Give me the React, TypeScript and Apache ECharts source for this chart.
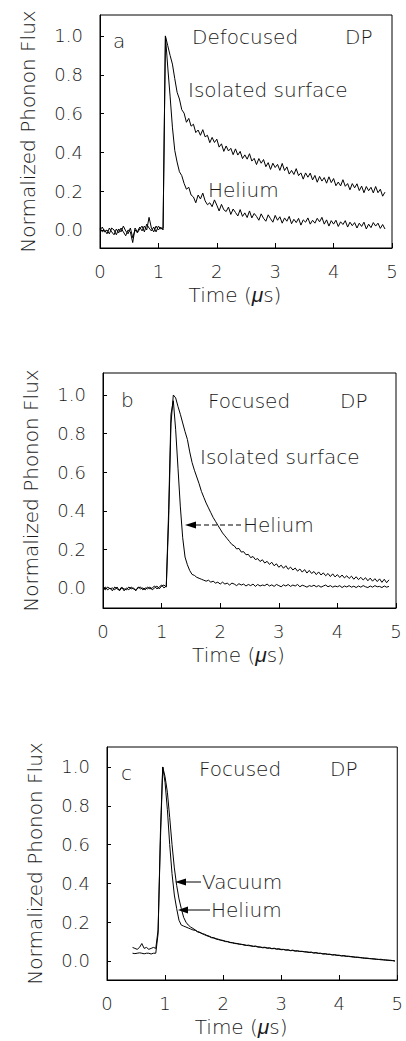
import React, { useEffect, useRef } from "react";
import * as echarts from "echarts";

const T_STEP = 0.04;
const A_T0 = 0;
const B_T0 = 0;
const C_T0 = 0.44;

const X_TICKS_MAX = 5;
const Y_TICK_VALUES = [0, 0.2, 0.4, 0.6, 0.8, 1.0];

// Panel a: Defocused DP
const aIsolated = [
  0.01, -0.01, 0.0, -0.02, 0.01, -0.01, -0.025, 0.005, -0.015, 0.01,
  -0.01, -0.03, 0.0, -0.01, -0.065, 0.01, -0.01, 0.015, -0.005, 0.02,
  0.0, 0.065, 0.01, -0.01, 0.02, 0.0, 0.015, 0.0, 1.0, 0.95,
  0.9, 0.855, 0.78, 0.71, 0.675, 0.62, 0.602, 0.555, 0.575, 0.535,
  0.545, 0.502, 0.515, 0.488, 0.517, 0.48, 0.488, 0.45, 0.477, 0.451,
  0.468, 0.427, 0.444, 0.405, 0.433, 0.407, 0.421, 0.388, 0.418, 0.386,
  0.405, 0.368, 0.387, 0.365, 0.393, 0.355, 0.369, 0.337, 0.368, 0.344,
  0.363, 0.326, 0.347, 0.312, 0.344, 0.322, 0.338, 0.307, 0.343, 0.306,
  0.325, 0.288, 0.307, 0.286, 0.316, 0.28, 0.294, 0.262, 0.294, 0.272,
  0.293, 0.258, 0.281, 0.246, 0.276, 0.252, 0.27, 0.241, 0.274, 0.244,
  0.265, 0.228, 0.247, 0.227, 0.259, 0.225, 0.239, 0.207, 0.239, 0.217,
  0.238, 0.203, 0.226, 0.192, 0.224, 0.202, 0.22, 0.191, 0.224, 0.192,
  0.21, 0.174, 0.195,
];
const aHelium = [
  0.0, 0.015, -0.01, 0.0, -0.02, 0.01, 0.0, -0.025, 0.005, -0.01,
  0.02, -0.005, -0.02, 0.01, -0.04, 0.0, -0.015, 0.005, 0.02, -0.01,
  0.03, 0.01, -0.005, 0.015, -0.01, 0.02, 0.005, 0.01, 1.0, 0.84,
  0.69, 0.53, 0.41, 0.35, 0.3, 0.28, 0.24, 0.21, 0.22, 0.18,
  0.17, 0.14, 0.18, 0.16, 0.19, 0.15, 0.13, 0.14, 0.12, 0.155,
  0.128, 0.098, 0.132, 0.104, 0.095, 0.118, 0.08, 0.108, 0.09, 0.072,
  0.105, 0.07, 0.088, 0.064, 0.098, 0.062, 0.085, 0.07, 0.05, 0.083,
  0.06, 0.045, 0.078, 0.058, 0.04, 0.075, 0.05, 0.068, 0.035, 0.062,
  0.045, 0.07, 0.032, 0.055, 0.038, 0.06, 0.025, 0.052, 0.04, 0.062,
  0.03, 0.05, 0.035, 0.06, 0.042, 0.065, 0.03, 0.052, 0.02, 0.048,
  0.03, 0.05, 0.018, 0.042, 0.028, 0.048, 0.015, 0.04, 0.022, 0.038,
  0.01, 0.035, 0.018, 0.04, 0.005, 0.03, 0.012, 0.038, 0.02, 0.035,
  0.008, 0.028, 0.005,
];

// Panel b: Focused DP
const bIsolated = [
  -0.005, 0.005, -0.01, 0.0, -0.015, 0.005, -0.005, -0.01, 0.005, -0.015,
  0.0, -0.01, 0.005, -0.005, -0.01, 0.0, 0.005, -0.01, 0.0, -0.005,
  0.005, -0.01, 0.0, 0.01, -0.005, 0.01, 0.015, 0.005, 0.35, 0.85,
  1.0, 0.985, 0.94, 0.9, 0.855, 0.81, 0.77, 0.705, 0.65, 0.61,
  0.575, 0.54, 0.5, 0.47, 0.44, 0.415, 0.39, 0.365, 0.345, 0.325,
  0.305, 0.285, 0.27, 0.255, 0.24, 0.225, 0.218, 0.202, 0.205, 0.186,
  0.188, 0.172, 0.174, 0.157, 0.163, 0.147, 0.152, 0.137, 0.146, 0.129,
  0.138, 0.122, 0.133, 0.115, 0.125, 0.107, 0.118, 0.102, 0.115, 0.097,
  0.108, 0.093, 0.103, 0.087, 0.098, 0.082, 0.095, 0.077, 0.091, 0.075,
  0.085, 0.069, 0.083, 0.067, 0.078, 0.063, 0.075, 0.059, 0.073, 0.057,
  0.069, 0.054, 0.067, 0.052, 0.063, 0.049, 0.061, 0.045, 0.058, 0.043,
  0.055, 0.041, 0.053, 0.037, 0.051, 0.035, 0.048, 0.033, 0.047, 0.029,
  0.045, 0.027, 0.042,
];
const bHelium = [
  0.0, -0.01, 0.005, -0.005, 0.0, -0.01, 0.005, -0.015, 0.0, -0.005,
  -0.01, 0.005, -0.005, 0.0, -0.015, 0.005, -0.005, 0.0, -0.01, 0.005,
  -0.005, 0.0, 0.01, -0.005, 0.005, 0.015, 0.0, 0.01, 0.4, 0.9,
  0.97, 0.82, 0.62, 0.42, 0.26, 0.16, 0.12, 0.09, 0.07, 0.065,
  0.055, 0.05, 0.045, 0.04, 0.035, 0.04, 0.03, 0.035, 0.025, 0.03,
  0.02, 0.03, 0.02, 0.025, 0.015, 0.025, 0.02, 0.012, 0.022, 0.015,
  0.02, 0.01, 0.018, 0.012, 0.02, 0.008, 0.018, 0.01, 0.015, 0.012,
  0.02, 0.01, 0.016, 0.008, 0.018, 0.012, 0.006, 0.016, 0.01, 0.018,
  0.008, 0.015, 0.01, 0.018, 0.006, 0.014, 0.01, 0.004, 0.012, 0.008,
  0.014, 0.006, 0.012, 0.004, 0.01, 0.015, 0.006, 0.012, 0.004, 0.01,
  0.006, 0.012, 0.002, 0.01, 0.005, 0.012, 0.004, 0.009, 0.002, 0.01,
  0.004, 0.012, 0.006, 0.002, 0.01, 0.004, 0.012, 0.006, 0.008, 0.002,
  0.01, 0.004, 0.008,
];

// Panel c: Focused DP, vacuum vs helium
const cVacuum = [
  0.07, 0.065, 0.06, 0.07, 0.09, 0.065, 0.07, 0.06, 0.065, 0.07, 0.065,
  0.16, 0.62, 1.0,
  0.95, 0.87, 0.74, 0.6, 0.48, 0.39, 0.32, 0.27, 0.225, 0.2,
  0.185, 0.175, 0.168, 0.16, 0.152, 0.148, 0.14, 0.138, 0.132, 0.128,
  0.122, 0.12, 0.115, 0.112, 0.108, 0.106, 0.102, 0.1, 0.096, 0.095,
  0.092, 0.09, 0.088, 0.085, 0.084, 0.08, 0.082, 0.078, 0.076, 0.077,
  0.073, 0.072, 0.07, 0.071, 0.067, 0.068, 0.064, 0.066, 0.062, 0.063,
  0.06, 0.06, 0.057, 0.058, 0.054, 0.056, 0.052, 0.053, 0.05, 0.05,
  0.048, 0.047, 0.045, 0.046, 0.042, 0.043, 0.04, 0.04, 0.037, 0.038,
  0.035, 0.035, 0.032, 0.033, 0.03, 0.03, 0.027, 0.028, 0.025, 0.025,
  0.023, 0.022, 0.02, 0.02, 0.018, 0.017, 0.015, 0.015, 0.013, 0.012,
  0.011, 0.01, 0.008, 0.009, 0.006, 0.006, 0.004, 0.004, 0.002, 0.0,
];
const cHelium = [
  0.04, 0.038, 0.04, 0.042, 0.04, 0.037, 0.04, 0.04, 0.036, 0.04, 0.04,
  0.14, 0.66, 1.0,
  0.92, 0.78, 0.6, 0.45, 0.34, 0.27, 0.21, 0.185, 0.18, 0.175,
  0.17, 0.165, 0.16, 0.158, 0.15, 0.146, 0.142, 0.135, 0.13, 0.126,
  0.12, 0.118, 0.113, 0.11, 0.107, 0.104, 0.1, 0.099, 0.095, 0.093,
  0.09, 0.089, 0.086, 0.086, 0.082, 0.081, 0.079, 0.078, 0.075, 0.075,
  0.072, 0.071, 0.068, 0.069, 0.066, 0.066, 0.063, 0.064, 0.061, 0.061,
  0.058, 0.059, 0.056, 0.056, 0.053, 0.054, 0.051, 0.051, 0.049, 0.049,
  0.047, 0.046, 0.044, 0.044, 0.041, 0.042, 0.039, 0.039, 0.036, 0.036,
  0.034, 0.034, 0.031, 0.031, 0.029, 0.028, 0.026, 0.026, 0.024, 0.023,
  0.022, 0.02, 0.019, 0.018, 0.017, 0.015, 0.014, 0.013, 0.012, 0.011,
  0.01, 0.008, 0.008, 0.006, 0.006, 0.004, 0.004, 0.002, 0.002, 0.0,
];

const FONT = "'DejaVu Sans', sans-serif";
const MU_FONT = "'Liberation Sans', 'DejaVu Sans', sans-serif";
const INK = "#1a1a1a";

function toPairs(t0: number, ys: number[]) {
  return ys.map((y, i) => [Math.round((t0 + i * T_STEP) * 1000) / 1000, y]);
}

const grids = [
  { left: 100, top: 15, width: 292, height: 233, yMin: -0.093, yMax: 1.108 },
  { left: 103, top: 373, width: 293, height: 235, yMin: -0.104, yMax: 1.114 },
  { left: 107, top: 747, width: 293, height: 233, yMin: -0.098, yMax: 1.103 },
];

function txt(text: string, x: number, y: number, size = 20) {
  return {
    type: "text",
    x,
    y,
    silent: true,
    style: {
      text,
      fill: INK,
      font: `300 ${size}px ${FONT}`,
      textAlign: "left",
      textVerticalAlign: "middle",
    },
  };
}

function arrow(tipX: number, y: number, headLen: number, tailX: number, dashed: boolean) {
  return [
    {
      type: "polygon",
      silent: true,
      shape: { points: [[tipX, y], [tipX + headLen, y - 3.5], [tipX + headLen, y + 3.5]] },
      style: { fill: "#000" },
    },
    {
      type: "line",
      silent: true,
      shape: { x1: tipX + headLen, y1: y, x2: tailX, y2: y },
      style: { stroke: "#000", lineWidth: 1, lineDash: dashed ? [5, 3] : null },
    },
  ];
}

export default function App() {
  const ref = useRef<HTMLDivElement>(null);

  useEffect(() => {
    document.body.style.margin = "0";
    if (!ref.current) return;
    const chart = echarts.init(ref.current, null, { renderer: "svg" });

    const xAxes = grids.map((_, gi) => ({
      gridIndex: gi,
      type: "value",
      min: 0,
      max: X_TICKS_MAX,
      interval: 1,
      axisLine: { show: true, onZero: false, lineStyle: { color: "#000", width: 1 } },
      axisTick: { show: true, inside: true, length: 5, lineStyle: { color: "#000" } },
      axisLabel: { margin: 14, fontSize: 18, color: INK, fontFamily: FONT, fontWeight: 300 },
      splitLine: { show: false },
      name: "Time ({mu|μ}s)",
      nameLocation: "middle",
      nameGap: 36,
      nameTextStyle: {
        fontSize: 20,
        color: INK,
        fontFamily: FONT,
        fontWeight: 300,
        padding: [0, 22, 0, 0],
        rich: {
          mu: { fontSize: 21, color: INK, fontFamily: MU_FONT, fontStyle: "italic", fontWeight: "normal" },
        },
      },
    }));

    const yAxes = grids.map((g, gi) => ({
      gridIndex: gi,
      type: "value",
      min: g.yMin,
      max: g.yMax,
      axisLine: { show: true, onZero: false, lineStyle: { color: "#000", width: 1 } },
      axisTick: {
        show: true,
        inside: true,
        length: 4,
        customValues: Y_TICK_VALUES,
        lineStyle: { color: "#000" },
      },
      axisLabel: {
        customValues: Y_TICK_VALUES,
        formatter: (v: number) => v.toFixed(1),
        margin: 17,
        fontSize: 18,
        color: INK,
        fontFamily: FONT,
        fontWeight: 300,
      },
      splitLine: { show: false },
      name: "Normalized Phonon Flux",
      nameLocation: "middle",
      nameGap: 62,
      nameTextStyle: { fontSize: 20, color: INK, fontFamily: FONT, fontWeight: 300 },
    }));

    const lineSeries = (name: string, gi: number, t0: number, ys: number[]) => ({
      name,
      type: "line",
      xAxisIndex: gi,
      yAxisIndex: gi,
      data: toPairs(t0, ys),
      showSymbol: false,
      symbol: "none",
      silent: true,
      lineStyle: { color: "#000", width: 1 },
    });

    const graphics: any[] = [
      txt("a", 113, 41),
      txt("Defocused", 192, 37),
      txt("DP", 345, 37),
      txt("Isolated surface", 188, 90),
      txt("Helium", 208, 190),
      txt("b", 121, 400),
      txt("Focused", 208, 401),
      txt("DP", 340, 401),
      txt("Isolated surface", 200, 457),
      txt("Helium", 243, 525),
      ...arrow(185, 525, 11, 241, true),
      txt("c", 121, 773),
      txt("Focused", 199, 769),
      txt("DP", 330, 769),
      txt("Vacuum", 202, 882),
      ...arrow(175, 882, 11, 201, false),
      txt("Helium", 211, 910),
      ...arrow(178, 910, 10, 210, false),
    ];

    chart.setOption({
      animation: false,
      backgroundColor: "#fff",
      grid: grids.map((g) => ({
        left: g.left,
        top: g.top,
        width: g.width,
        height: g.height,
        show: true,
        borderColor: "#000",
        borderWidth: 1,
        backgroundColor: "transparent",
      })),
      xAxis: xAxes,
      yAxis: yAxes,
      series: [
        lineSeries("Isolated surface (a)", 0, A_T0, aIsolated),
        lineSeries("Helium (a)", 0, A_T0, aHelium),
        lineSeries("Isolated surface (b)", 1, B_T0, bIsolated),
        lineSeries("Helium (b)", 1, B_T0, bHelium),
        lineSeries("Vacuum (c)", 2, C_T0, cVacuum),
        lineSeries("Helium (c)", 2, C_T0, cHelium),
      ],
      graphic: graphics,
    });

    return () => chart.dispose();
  }, []);

  return <div ref={ref} style={{ width: 406, height: 1041 }} />;
}
